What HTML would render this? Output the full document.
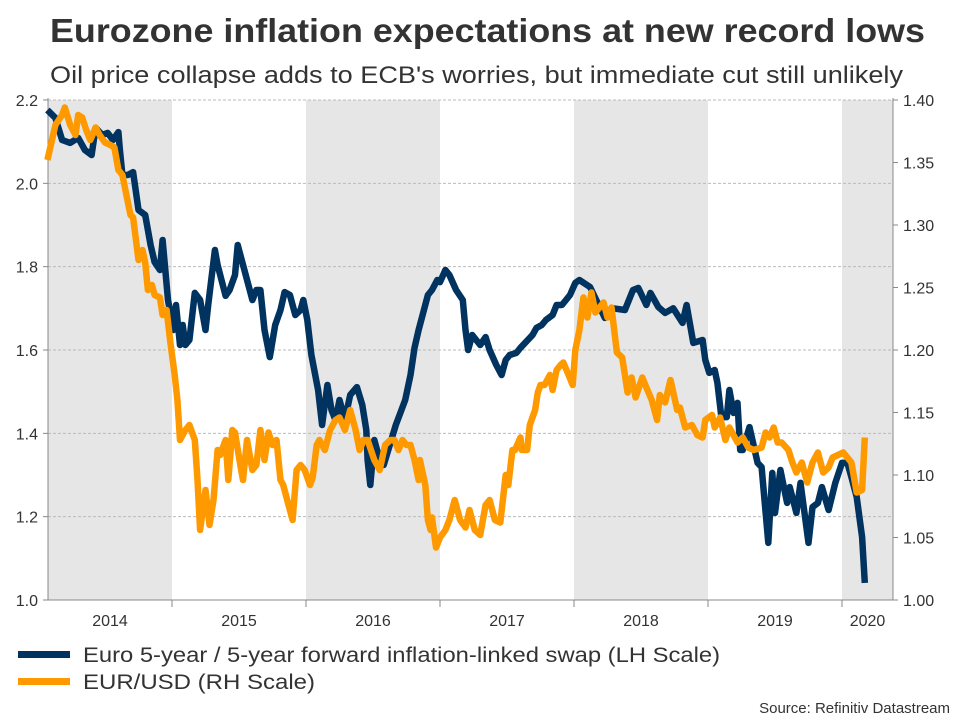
<!DOCTYPE html>
<html><head><meta charset="utf-8"><style>
html,body{margin:0;padding:0;background:#fff;}
svg{display:block;font-family:"Liberation Sans Narrow","Liberation Sans",sans-serif;}
</style></head><body>
<svg id="chart" width="960" height="720" viewBox="0 0 960 720" xmlns="http://www.w3.org/2000/svg">
<text x="50" y="42" font-size="33" font-weight="bold" fill="#333" textLength="875" lengthAdjust="spacingAndGlyphs">Eurozone inflation expectations at new record lows</text>
<text x="50" y="83" font-size="24" fill="#333" textLength="853" lengthAdjust="spacingAndGlyphs">Oil price collapse adds to ECB's worries, but immediate cut still unlikely</text>
<g id="bands"></g>
<g id="grid"></g>
<g id="axes"></g>
<g id="series"></g>
<g>
<rect x="18" y="651" width="52" height="7" fill="#00335f"/>
<text x="83" y="662" font-size="21" fill="#333" textLength="637" lengthAdjust="spacingAndGlyphs">Euro 5-year / 5-year forward inflation-linked swap (LH Scale)</text>
<rect x="18" y="678" width="52" height="7" fill="#ff9900"/>
<text x="83" y="689" font-size="21" fill="#333" textLength="232" lengthAdjust="spacingAndGlyphs">EUR/USD (RH Scale)</text>
</g>
<text x="950" y="713" font-size="15" fill="#333" text-anchor="end">Source: Refinitiv Datastream</text>
</svg>
<script>
const BASE_YEAR = 2014;
const leftTicks = [1.0, 1.2, 1.4, 1.6, 1.8, 2.0, 2.2];
const leftTickLabels = ["1.0","1.2","1.4","1.6","1.8","2.0","2.2"];
const rightTicks = [1.00,1.05,1.10,1.15,1.20,1.25,1.30,1.35,1.40];
const rightTickLabels = ["1.00","1.05","1.10","1.15","1.20","1.25","1.30","1.35","1.40"];
const yearLabels = ["2014","2015","2016","2017","2018","2019","2020"];
const swapDates = [.07,.13,.18,.24,.30,.35,.40,.43,.48,.52,.56,.60,.61,.63,.67,.71,.75,.80,.84,.87,.91,.93,.97,1.01,1.03,1.06,1.08,1.10,1.13,1.17,1.21,1.25,1.27,1.32,1.34,1.40,1.43,1.47,1.49,1.52,1.57,1.60,1.63,1.66,1.69,1.73,1.77,1.81,1.84,1.88,1.92,1.96,1.98,2.01,2.04,2.09,2.12,2.16,2.19,2.22,2.25,2.29,2.33,2.38,2.42,2.45,2.46,2.48,2.51,2.54,2.58,2.63,2.67,2.74,2.78,2.81,2.84,2.87,2.91,2.94,2.98,3.00,3.04,3.07,3.12,3.17,3.19,3.21,3.24,3.27,3.30,3.34,3.37,3.42,3.46,3.49,3.52,3.57,3.60,3.64,3.69,3.72,3.76,3.79,3.84,3.87,3.91,3.94,3.97,4.01,4.04,4.12,4.23,4.29,4.38,4.44,4.48,4.54,4.57,4.63,4.68,4.74,4.81,4.84,4.89,4.96,4.98,5.01,5.05,5.07,5.10,5.14,5.16,5.19,5.22,5.24,5.26,5.31,5.37,5.40,5.45,5.48,5.50,5.54,5.59,5.61,5.66,5.69,5.75,5.78,5.82,5.85,5.90,5.95,6.00,6.04,6.07,6.11,6.15,6.17];
const swapValues = [2.176,2.157,2.104,2.097,2.109,2.08,2.068,2.133,2.116,2.121,2.104,2.123,2.085,2.02,2.02,2.027,1.936,1.924,1.852,1.811,1.792,1.864,1.72,1.648,1.708,1.612,1.66,1.612,1.624,1.737,1.72,1.648,1.708,1.84,1.804,1.73,1.744,1.78,1.852,1.816,1.756,1.72,1.744,1.744,1.648,1.583,1.66,1.696,1.739,1.732,1.684,1.696,1.72,1.672,1.588,1.504,1.42,1.516,1.456,1.432,1.48,1.432,1.492,1.511,1.468,1.408,1.336,1.276,1.384,1.348,1.324,1.377,1.42,1.48,1.54,1.605,1.648,1.684,1.732,1.744,1.768,1.763,1.792,1.78,1.744,1.72,1.648,1.60,1.636,1.624,1.612,1.631,1.60,1.564,1.54,1.576,1.588,1.593,1.605,1.619,1.636,1.653,1.66,1.672,1.684,1.708,1.708,1.72,1.732,1.761,1.768,1.751,1.677,1.70,1.696,1.744,1.749,1.708,1.737,1.703,1.689,1.70,1.665,1.708,1.617,1.624,1.576,1.545,1.552,1.521,1.439,1.439,1.504,1.449,1.473,1.36,1.36,1.415,1.329,1.319,1.137,1.305,1.209,1.312,1.233,1.271,1.209,1.281,1.137,1.223,1.233,1.271,1.216,1.281,1.329,1.329,1.295,1.247,1.151,1.041];
const fxDates = [.07,.13,.18,.20,.24,.28,.30,.33,.36,.39,.43,.46,.50,.54,.57,.60,.63,.66,.69,.71,.75,.78,.80,.82,.85,.87,.91,.93,.96,.99,1.02,1.04,1.06,1.10,1.13,1.17,1.19,1.21,1.25,1.28,1.31,1.34,1.36,1.40,1.42,1.45,1.47,1.51,1.53,1.56,1.60,1.63,1.66,1.69,1.72,1.75,1.78,1.81,1.83,1.86,1.90,1.93,1.96,1.99,2.03,2.05,2.08,2.10,2.14,2.18,2.22,2.25,2.29,2.33,2.37,2.40,2.43,2.46,2.51,2.55,2.59,2.63,2.66,2.69,2.72,2.75,2.78,2.81,2.84,2.85,2.89,2.91,2.93,2.94,2.97,3.00,3.04,3.07,3.11,3.15,3.19,3.22,3.26,3.30,3.34,3.37,3.41,3.45,3.49,3.51,3.54,3.56,3.60,3.61,3.65,3.67,3.71,3.73,3.75,3.78,3.82,3.84,3.87,3.90,3.92,3.96,3.99,4.01,4.04,4.07,4.10,4.13,4.16,4.22,4.25,4.28,4.32,4.36,4.40,4.43,4.46,4.51,4.54,4.58,4.62,4.64,4.68,4.72,4.77,4.79,4.83,4.88,4.92,4.96,4.98,5.03,5.05,5.09,5.13,5.16,5.22,5.26,5.30,5.34,5.40,5.43,5.46,5.49,5.52,5.55,5.60,5.63,5.66,5.70,5.74,5.78,5.82,5.86,5.90,5.93,5.97,6.01,6.04,6.07,6.11,6.15,6.17];
const fxValues = [1.352,1.38,1.388,1.394,1.38,1.372,1.388,1.386,1.376,1.368,1.378,1.372,1.366,1.364,1.362,1.344,1.34,1.324,1.308,1.306,1.272,1.28,1.27,1.248,1.252,1.244,1.242,1.228,1.232,1.204,1.18,1.16,1.128,1.136,1.14,1.128,1.096,1.056,1.088,1.06,1.08,1.12,1.116,1.128,1.096,1.136,1.134,1.108,1.096,1.128,1.104,1.108,1.136,1.112,1.134,1.124,1.128,1.096,1.092,1.08,1.064,1.104,1.108,1.104,1.092,1.098,1.124,1.128,1.12,1.136,1.144,1.146,1.136,1.152,1.136,1.12,1.128,1.128,1.112,1.104,1.124,1.128,1.128,1.12,1.128,1.124,1.124,1.112,1.096,1.112,1.092,1.064,1.056,1.066,1.042,1.05,1.056,1.064,1.08,1.064,1.058,1.072,1.056,1.052,1.076,1.08,1.064,1.062,1.10,1.092,1.12,1.12,1.13,1.12,1.12,1.14,1.152,1.166,1.172,1.172,1.18,1.168,1.184,1.188,1.19,1.18,1.172,1.20,1.216,1.242,1.226,1.246,1.23,1.238,1.226,1.234,1.198,1.194,1.166,1.178,1.162,1.178,1.17,1.16,1.144,1.164,1.158,1.176,1.152,1.154,1.138,1.14,1.132,1.13,1.144,1.148,1.138,1.146,1.128,1.138,1.126,1.13,1.122,1.12,1.122,1.134,1.13,1.138,1.126,1.126,1.12,1.11,1.102,1.11,1.094,1.11,1.118,1.102,1.106,1.114,1.116,1.118,1.114,1.11,1.086,1.088,1.13];

const NS = "http://www.w3.org/2000/svg";
const X0 = 48, X1 = 893, Y0 = 100, Y1 = 600;
function xScale(t){ return 38 + (t - BASE_YEAR) * 134; }
function yLeft(v){ return Y1 - (v - 1.0) / 1.2 * (Y1 - Y0); }
function yRight(v){ return Y1 - (v - 1.0) / 0.4 * (Y1 - Y0); }
function mk(tag, attrs, parent){ const e = document.createElementNS(NS, tag); for (const k in attrs) e.setAttribute(k, attrs[k]); parent.appendChild(e); return e; }

const bands = document.getElementById('bands');
yearLabels.forEach((lab, i) => {
  const yr = BASE_YEAR + i;
  const a = Math.max(X0, xScale(yr)), b = Math.min(X1, xScale(yr + 1));
  if (i % 2 === 0) {
    const r = mk('rect', {x: a, y: Y0, width: b - a, height: Y1 - Y0, fill: '#e6e6e6'}, bands);
    
    
  }
  const t = mk('text', {x: (a + b) / 2, y: 626, 'font-size': 16, fill: '#333', 'text-anchor': 'middle'}, document.getElementById('axes'));
  t.textContent = lab;
  
  
  if (i > 0) {
    const tk = mk('line', {x1: xScale(yr), x2: xScale(yr), y1: Y1, y2: Y1 + 7, stroke: '#888', 'stroke-width': 1}, document.getElementById('axes'));
    
    
  }
});

const grid = document.getElementById('grid');
const axes = document.getElementById('axes');
leftTicks.forEach((v, i) => {
  const y = yLeft(v);
  if (i > 0) {
    const g = mk('line', {x1: X0, x2: X1, y1: y, y2: y, stroke: '#bbb', 'stroke-width': 1, 'stroke-dasharray': '3,2'}, grid);
    
    
  }
  const tk = mk('line', {x1: X0 - 5, x2: X0, y1: y, y2: y, stroke: '#888'}, axes);
  
  
  const t = mk('text', {x: 38, y: y + 6, 'font-size': 16, fill: '#333', 'text-anchor': 'end'}, axes);
  t.textContent = leftTickLabels[i];
  
  
});
rightTicks.forEach((v, i) => {
  const y = yRight(v);
  const tk = mk('line', {x1: X1, x2: X1 + 5, y1: y, y2: y, stroke: '#888'}, axes);
  
  
  const t = mk('text', {x: 903, y: y + 6, 'font-size': 16, fill: '#333'}, axes);
  t.textContent = rightTickLabels[i];
  
  
});
const la = mk('line', {x1: X0, x2: X0, y1: Y0 - 2, y2: Y1, stroke: '#888'}, axes);


const ra = mk('line', {x1: X1, x2: X1, y1: Y0 - 2, y2: Y1, stroke: '#888'}, axes);


const ba = mk('line', {x1: X0, x2: X1, y1: Y1, y2: Y1, stroke: '#888'}, axes);



const series = document.getElementById('series');
function pathOf(dates, vals, ys){ return dates.map((d, i) => (i ? 'L' : 'M') + xScale(BASE_YEAR + d).toFixed(1) + ',' + ys(vals[i]).toFixed(1)).join(''); }
const p1 = mk('path', {d: pathOf(swapDates, swapValues, yLeft), fill: 'none', stroke: '#00335f', 'stroke-width': 6.5, 'stroke-linejoin': 'round'}, series);


const p2 = mk('path', {d: pathOf(fxDates, fxValues, yRight), fill: 'none', stroke: '#ff9900', 'stroke-width': 6.5, 'stroke-linejoin': 'round'}, series);


</script>
</body></html>
